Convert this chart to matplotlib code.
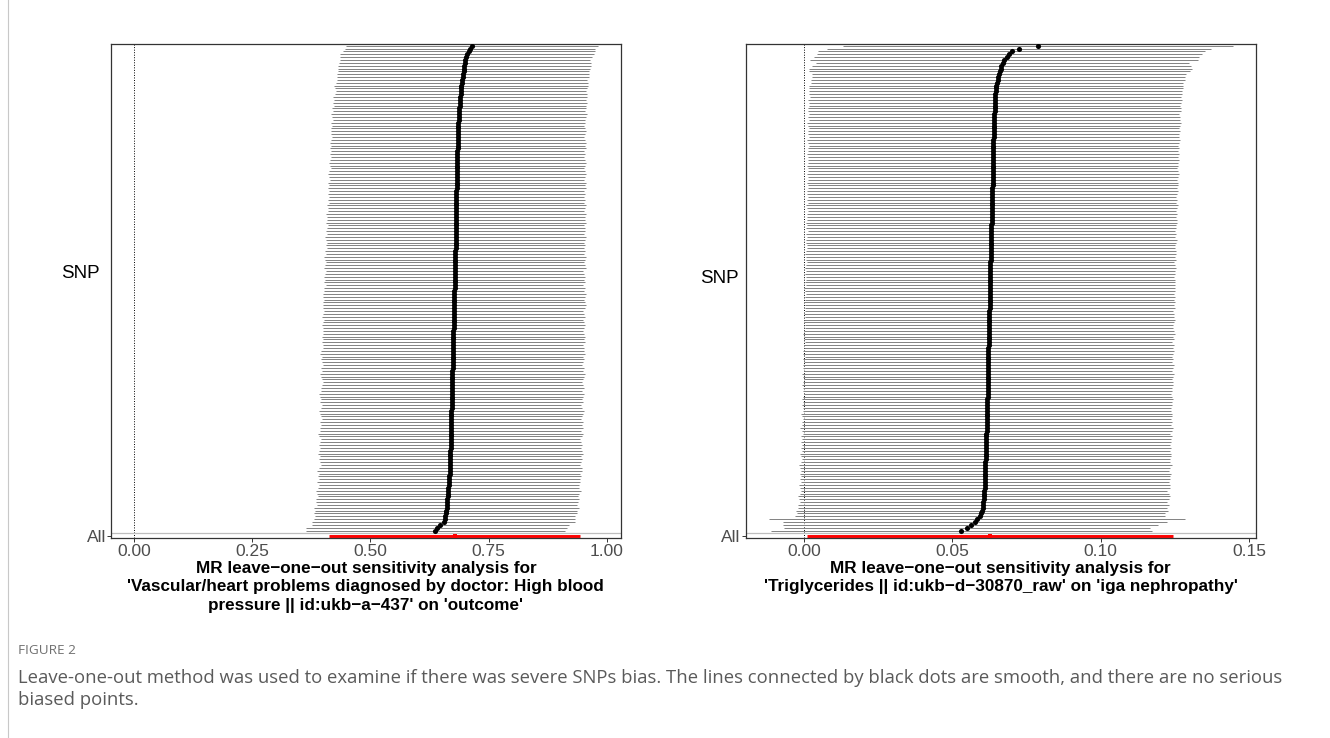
import numpy as np
import matplotlib.pyplot as plt
from matplotlib.patches import Rectangle

plt.rcParams['font.family'] = ['Liberation Sans', 'DejaVu Sans']

# leave-one-out estimates (beta, se), ordered from smallest to largest beta
bp_b = [
    0.637, 0.640, 0.648, 0.655, 0.657, 0.658, 0.659, 0.660, 0.661, 0.662,
    0.662, 0.663, 0.664, 0.664, 0.665, 0.665, 0.666, 0.666, 0.667, 0.667,
    0.668, 0.668, 0.669, 0.669, 0.669, 0.669, 0.669, 0.669, 0.669, 0.670,
    0.670, 0.670, 0.670, 0.670, 0.670, 0.670, 0.671, 0.671, 0.671, 0.671,
    0.671, 0.671, 0.671, 0.672, 0.672, 0.672, 0.672, 0.672, 0.672, 0.672,
    0.673, 0.673, 0.673, 0.673, 0.673, 0.673, 0.673, 0.674, 0.674, 0.674,
    0.674, 0.674, 0.674, 0.674, 0.675, 0.675, 0.675, 0.675, 0.675, 0.675,
    0.675, 0.676, 0.676, 0.676, 0.676, 0.676, 0.676, 0.676, 0.677, 0.677,
    0.677, 0.677, 0.677, 0.677, 0.677, 0.678, 0.678, 0.678, 0.678, 0.678,
    0.678, 0.678, 0.679, 0.679, 0.679, 0.679, 0.679, 0.679, 0.679, 0.680,
    0.680, 0.680, 0.680, 0.680, 0.680, 0.680, 0.681, 0.681, 0.681, 0.681,
    0.681, 0.681, 0.681, 0.682, 0.682, 0.682, 0.682, 0.682, 0.682, 0.682,
    0.683, 0.683, 0.683, 0.683, 0.683, 0.683, 0.683, 0.684, 0.684, 0.684,
    0.684, 0.684, 0.684, 0.684, 0.685, 0.685, 0.685, 0.685, 0.685, 0.685,
    0.686, 0.686, 0.686, 0.686, 0.687, 0.687, 0.687, 0.688, 0.688, 0.689,
    0.689, 0.690, 0.690, 0.691, 0.691, 0.692, 0.692, 0.693, 0.694, 0.695,
    0.696, 0.697, 0.698, 0.699, 0.700, 0.701, 0.703, 0.705, 0.708, 0.711,
    0.714,
]
bp_se = [
    0.140, 0.141, 0.139, 0.142, 0.141, 0.140, 0.142, 0.141, 0.143, 0.140,
    0.141, 0.142, 0.140, 0.141, 0.143, 0.141, 0.140, 0.142, 0.141, 0.142,
    0.141, 0.143, 0.142, 0.140, 0.141, 0.142, 0.141, 0.143, 0.142, 0.141,
    0.142, 0.141, 0.140, 0.142, 0.143, 0.141, 0.142, 0.141, 0.142, 0.140,
    0.141, 0.142, 0.143, 0.141, 0.140, 0.142, 0.141, 0.142, 0.143, 0.141,
    0.142, 0.141, 0.140, 0.141, 0.142, 0.143, 0.141, 0.142, 0.140, 0.141,
    0.142, 0.141, 0.143, 0.142, 0.141, 0.140, 0.142, 0.141, 0.142, 0.141,
    0.140, 0.141, 0.142, 0.141, 0.140, 0.142, 0.141, 0.140, 0.141, 0.142,
    0.141, 0.140, 0.141, 0.142, 0.140, 0.141, 0.139, 0.141, 0.140, 0.141,
    0.140, 0.139, 0.141, 0.140, 0.139, 0.140, 0.141, 0.139, 0.140, 0.139,
    0.140, 0.139, 0.140, 0.141, 0.139, 0.140, 0.139, 0.138, 0.140, 0.139,
    0.139, 0.140, 0.138, 0.139, 0.140, 0.138, 0.139, 0.138, 0.139, 0.138,
    0.139, 0.138, 0.139, 0.137, 0.138, 0.139, 0.138, 0.137, 0.138, 0.139,
    0.138, 0.137, 0.138, 0.137, 0.138, 0.137, 0.138, 0.137, 0.136, 0.137,
    0.138, 0.137, 0.136, 0.137, 0.136, 0.137, 0.138, 0.136, 0.137, 0.136,
    0.137, 0.136, 0.137, 0.136, 0.135, 0.136, 0.137, 0.136, 0.135, 0.136,
    0.136, 0.135, 0.136, 0.137, 0.136, 0.135, 0.136, 0.137, 0.136, 0.135,
    0.136,
]
bp_all = (0.678, 0.1357)

tg_b = [
    0.0531, 0.0549, 0.0562, 0.0578, 0.0584, 0.0594, 0.0598, 0.0601, 0.0603, 0.0604,
    0.0605, 0.0606, 0.0607, 0.0608, 0.0608, 0.0609, 0.0609, 0.0610, 0.0610, 0.0611,
    0.0611, 0.0611, 0.0612, 0.0612, 0.0612, 0.0613, 0.0613, 0.0613, 0.0614, 0.0614,
    0.0614, 0.0615, 0.0615, 0.0615, 0.0615, 0.0616, 0.0616, 0.0616, 0.0616, 0.0617,
    0.0617, 0.0617, 0.0617, 0.0618, 0.0618, 0.0618, 0.0618, 0.0619, 0.0619, 0.0619,
    0.0619, 0.0619, 0.0620, 0.0620, 0.0620, 0.0620, 0.0621, 0.0621, 0.0621, 0.0621,
    0.0622, 0.0622, 0.0622, 0.0622, 0.0622, 0.0623, 0.0623, 0.0623, 0.0623, 0.0624,
    0.0624, 0.0624, 0.0624, 0.0625, 0.0625, 0.0625, 0.0625, 0.0625, 0.0626, 0.0626,
    0.0626, 0.0626, 0.0627, 0.0627, 0.0627, 0.0627, 0.0628, 0.0628, 0.0628, 0.0628,
    0.0628, 0.0629, 0.0629, 0.0629, 0.0629, 0.0630, 0.0630, 0.0630, 0.0630, 0.0631,
    0.0631, 0.0631, 0.0631, 0.0631, 0.0632, 0.0632, 0.0632, 0.0632, 0.0633, 0.0633,
    0.0633, 0.0633, 0.0634, 0.0634, 0.0634, 0.0634, 0.0634, 0.0635, 0.0635, 0.0635,
    0.0635, 0.0636, 0.0636, 0.0636, 0.0636, 0.0637, 0.0637, 0.0637, 0.0637, 0.0637,
    0.0638, 0.0638, 0.0638, 0.0638, 0.0639, 0.0639, 0.0639, 0.0639, 0.0640, 0.0640,
    0.0640, 0.0641, 0.0641, 0.0641, 0.0642, 0.0642, 0.0642, 0.0643, 0.0643, 0.0644,
    0.0644, 0.0644, 0.0645, 0.0645, 0.0646, 0.0647, 0.0648, 0.0651, 0.0654, 0.0656,
    0.0658, 0.0660, 0.0663, 0.0666, 0.0670, 0.0675, 0.0684, 0.0692, 0.0700, 0.0725,
    0.0788,
]
tg_se = [
    0.0328, 0.0315, 0.0323, 0.0330, 0.0358, 0.0318, 0.0316, 0.0320, 0.0317, 0.0319,
    0.0316, 0.0318, 0.0320, 0.0317, 0.0315, 0.0318, 0.0319, 0.0316, 0.0318, 0.0317,
    0.0319, 0.0316, 0.0318, 0.0320, 0.0317, 0.0316, 0.0318, 0.0319, 0.0317, 0.0318,
    0.0316, 0.0318, 0.0317, 0.0319, 0.0316, 0.0318, 0.0320, 0.0317, 0.0318, 0.0316,
    0.0318, 0.0319, 0.0317, 0.0316, 0.0318, 0.0317, 0.0319, 0.0318, 0.0316, 0.0318,
    0.0317, 0.0319, 0.0318, 0.0316, 0.0318, 0.0320, 0.0317, 0.0318, 0.0319, 0.0317,
    0.0318, 0.0316, 0.0318, 0.0319, 0.0317, 0.0318, 0.0316, 0.0318, 0.0317, 0.0319,
    0.0318, 0.0317, 0.0316, 0.0318, 0.0319, 0.0317, 0.0318, 0.0316, 0.0318, 0.0317,
    0.0319, 0.0317, 0.0318, 0.0316, 0.0318, 0.0319, 0.0317, 0.0318, 0.0317, 0.0316,
    0.0318, 0.0317, 0.0319, 0.0318, 0.0316, 0.0318, 0.0317, 0.0319, 0.0318, 0.0317,
    0.0316, 0.0318, 0.0319, 0.0317, 0.0318, 0.0316, 0.0318, 0.0317, 0.0319, 0.0318,
    0.0317, 0.0318, 0.0316, 0.0318, 0.0319, 0.0317, 0.0318, 0.0316, 0.0318, 0.0319,
    0.0317, 0.0318, 0.0319, 0.0317, 0.0318, 0.0320, 0.0318, 0.0317, 0.0319, 0.0318,
    0.0319, 0.0318, 0.0320, 0.0318, 0.0319, 0.0317, 0.0319, 0.0320, 0.0318, 0.0319,
    0.0320, 0.0318, 0.0319, 0.0321, 0.0319, 0.0320, 0.0318, 0.0320, 0.0321, 0.0319,
    0.0320, 0.0322, 0.0319, 0.0321, 0.0320, 0.0322, 0.0321, 0.0320, 0.0322, 0.0321,
    0.0322, 0.0327, 0.0329, 0.0326, 0.0321, 0.0334, 0.0331, 0.0331, 0.0332, 0.0330,
    0.0335,
]
tg_all = (0.0627, 0.0315)

bp_title = ("MR leave\u2212one\u2212out sensitivity analysis for\n"
            "'Vascular/heart problems diagnosed by doctor: High blood\n"
            "pressure || id:ukb\u2212a\u2212437' on 'outcome'")
tg_title = ("MR leave\u2212one\u2212out sensitivity analysis for\n"
            "'Triglycerides || id:ukb\u2212d\u221230870_raw' on 'iga nephropathy'")
bp_ticks = [0.0, 0.25, 0.5, 0.75, 1.0]
tg_ticks = [0.0, 0.05, 0.10, 0.15]

caption_head = "FIGURE 2"
caption_body = ("Leave-one-out method was used to examine if there was severe SNPs bias. "
                "The lines connected by black dots are smooth, and there are no serious\n"
                "biased points.")

tick_fontsize = 12.5
label_fontsize = 13.5
title_fontsize = 12.3


def leave_one_out_panel(ax, b, se, b_all, ticks, title):
    b = np.asarray(b)
    se = np.asarray(se)
    lo = b - 1.96 * se
    up = b + 1.96 * se
    all_lo = b_all[0] - 1.96 * b_all[1]
    all_up = b_all[0] + 1.96 * b_all[1]
    n = len(b)
    # row 1 = All, row 2 = spacer, SNPs above
    rows = np.arange(3, n + 3)

    ax.axvline(0, color='black', linestyle=(0, (1, 1.6)), linewidth=0.7, zorder=1)
    ax.axhline(2, color='#bebebe', linewidth=0.9, zorder=1)
    ax.hlines(rows, lo, up, color='#858585', linewidth=0.72, zorder=2)
    ax.plot(b, rows, 'o', color='black', markersize=3.7, markeredgewidth=0, zorder=3)
    ax.hlines([1], [all_lo], [all_up], color='red', linewidth=2.1, zorder=2)
    ax.plot([b_all[0]], [1.15], 's', color='red', markersize=2.4, markeredgewidth=0, zorder=3)

    xmin = min(0.0, lo.min(), all_lo)
    xmax = max(0.0, up.max(), all_up)
    pad = 0.05 * (xmax - xmin)
    ax.set_xlim(xmin - pad, xmax + pad)
    ax.set_ylim(0.4, n + 2.6)

    ax.set_xticks(ticks)
    ax.set_xticklabels(["%.2f" % t for t in ticks])
    ax.set_yticks([1])
    ax.set_yticklabels(["All"])
    ax.tick_params(axis='both', labelsize=tick_fontsize, labelcolor='#4d4d4d',
                   color='#333333', length=3, width=0.7)
    ax.tick_params(axis='x', pad=1.5)
    ax.tick_params(axis='y', pad=0.5)
    for s in ax.spines.values():
        s.set_color('#333333')
        s.set_linewidth(0.9)

    ax.set_xlabel(title, fontsize=title_fontsize, fontweight='bold', labelpad=1.0,
                  linespacing=1.32)
    ax.set_ylabel("SNP", fontsize=label_fontsize, rotation=0, ha='right', va='center')


fig = plt.figure(figsize=(13.3, 7.38), dpi=100)
ax1 = fig.add_axes([111 / 1330, 1 - 538 / 738, 509.7 / 1330, 494 / 738])
ax2 = fig.add_axes([745.7 / 1330, 1 - 538 / 738, 510 / 1330, 494 / 738])

leave_one_out_panel(ax1, bp_b, bp_se, bp_all, bp_ticks, bp_title)
leave_one_out_panel(ax2, tg_b, tg_se, tg_all, tg_ticks, tg_title)
ax1.yaxis.set_label_coords(-0.023, 0.535)
ax2.yaxis.set_label_coords(-0.014, 0.525)

# outer frame and caption
fig.patches.append(Rectangle((8 / 1330, -0.01), 1.5, 1.5, transform=fig.transFigure,
                             fill=False, edgecolor='#c8c8c8', linewidth=0.8))
fig.text(18 / 1330, 1 - 651 / 738, caption_head, fontsize=9.7, color='#707070',
         family=['Open Sans', 'DejaVu Sans'], va='center')
fig.text(18 / 1330, 1 - 669 / 738, caption_body, fontsize=13.3, color='#5a5a5a',
         family=['Open Sans', 'DejaVu Sans'], va='top', linespacing=1.3)

plt.savefig("out.png", dpi=100)
